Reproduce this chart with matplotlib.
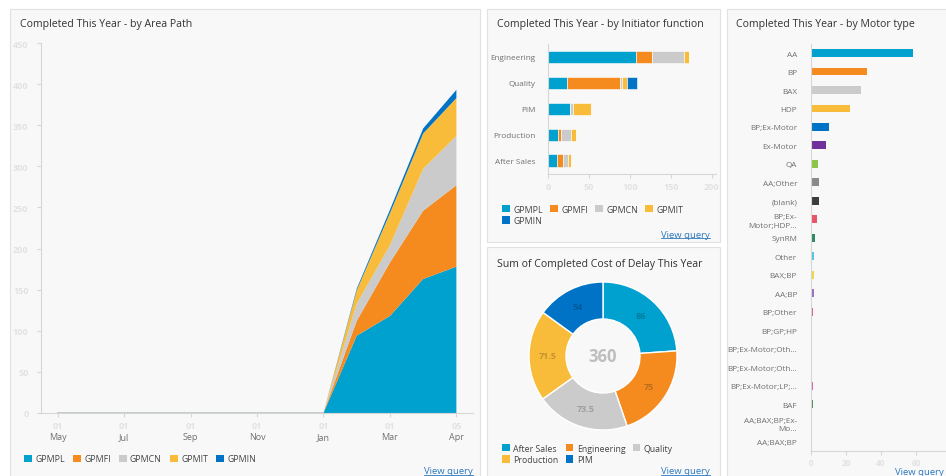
import matplotlib
matplotlib.use('Agg')
import matplotlib.pyplot as plt
from matplotlib.patches import Rectangle, Patch
from matplotlib.lines import Line2D
import numpy as np

plt.rcParams['font.family'] = ['Open Sans', 'DejaVu Sans']

# ---------------- data ----------------
series_names = ['GPMPL', 'GPMFI', 'GPMCN', 'GPMIT', 'GPMIN']
series_colors = ['#00a0cf', '#f58b1f', '#cbcbcb', '#f8bc3a', '#0073c6']

# Area chart (periods 0..12)
periods = list(range(13))
period_tick_pos = [0, 2, 4, 6, 8, 10, 12]
period_tick_labels = ['May', 'Jul', 'Sep', 'Nov', 'Jan', 'Mar', 'Apr']
period_tick_days = ['01', '01', '01', '01', '01', '01', '05']
area_gpmpl = [0, 0, 0, 0, 0, 0, 0, 0, 0, 94, 118, 163, 178]
area_gpmfi = [0, 0, 0, 0, 0, 0, 0, 0, 0, 18, 65, 83, 99]
area_gpmcn = [0, 0, 0, 0, 0, 0, 0, 0, 0, 21, 21, 51, 60]
area_gpmit = [0, 0, 0, 0, 0, 0, 0, 0, 0, 16, 39, 43, 46]
area_gpmin = [0, 0, 0, 0, 0, 0, 0, 0, 0, 2, 4, 6, 10]
area_yticks = [0, 50, 100, 150, 200, 250, 300, 350, 400, 450]

# Initiator function stacked bars
init_categories = ['Engineering', 'Quality', 'PIM', 'Production', 'After Sales']
init_gpmpl = [107, 23, 27, 12, 11]
init_gpmfi = [20, 65, 0, 4, 7]
init_gpmcn = [39, 2, 4, 12, 6]
init_gpmit = [6, 7, 22, 6, 4]
init_gpmin = [0, 11, 0, 0, 0]
init_xticks = [0, 50, 100, 150, 200]

# Cost of delay donut
cod_labels = ['After Sales', 'Engineering', 'Quality', 'Production', 'PIM']
cod_values = [86, 75, 73.5, 71.5, 54]
cod_colors = ['#00a0cf', '#f58b1f', '#cbcbcb', '#f8bc3a', '#0073c6']

# Motor type bars
motor_categories = ['AA', 'BP', 'BAX', 'HDP', 'BP;Ex-Motor', 'Ex-Motor', 'QA', 'AA;Other',
                    '(blank)', 'BP;Ex-\nMotor;HDP...', 'SynRM', 'Other', 'BAX;BP', 'AA;BP',
                    'BP;Other', 'BP;GP;HP', 'BP;Ex-Motor;Oth...', 'BP;Ex-Motor;Oth...',
                    'BP;Ex-Motor;LP;...', 'BAF', 'AA;BAX;BP;Ex-\nMo...', 'AA;BAX;BP']
motor_values = [58, 32, 28.5, 22, 10, 8.5, 4, 4.5, 4.5, 3.5, 2, 1.5, 1.5, 1.5,
                1, 0.5, 0.7, 0.7, 1, 1, 0.6, 0.6]
motor_colors = ['#00a0cf', '#f58b1f', '#cbcbcb', '#f8bc3a', '#0073c6', '#71309a', '#8dc54b',
                '#8a8a8a', '#3b3b3b', '#e6556a', '#2f8a5f', '#56c3e5', '#f2d83a', '#9b72c0',
                '#e0608a', '#ece0c8', '#f0a080', '#b8d8f0', '#e060b0', '#4f8f60', '#6cc8e8',
                '#f5b080']
motor_xticks = [0, 20, 40, 60]

# ---------------- layout helpers ----------------
W, H = 946, 477
fig = plt.figure(figsize=(W / 100, H / 100), dpi=100)
fig.patch.set_facecolor('white')

def box(x0, y0, x1, y1):
    return [x0 / W, 1 - y1 / H, (x1 - x0) / W, (y1 - y0) / H]

def panel(x0, y0, x1, y1):
    fig.add_artist(Rectangle((x0 / W, 1 - y1 / H), (x1 - x0) / W, (y1 - y0) / H,
                             transform=fig.transFigure, facecolor='#f8f8f8',
                             edgecolor='#e2e2e2', lw=0.8, zorder=0))

def title(x, y, s):
    fig.text(x / W, 1 - y / H, s, fontsize=7.6, color='#333333', va='center', ha='left')

links = []
def view_query(x, y, ha='right'):
    t = fig.text(x / W, 1 - y / H, 'View query', fontsize=6.8, color='#2a78be',
                 va='center', ha=ha)
    links.append(t)

AX_GRAY = '#d6d6d6'
BLUR = '#e2e2e2'
LBL = '#707070'

def style_axes(ax):
    ax.set_facecolor('none')
    for s in ['top', 'right']:
        ax.spines[s].set_visible(False)
    for s in ['left', 'bottom']:
        ax.spines[s].set_color(AX_GRAY)
        ax.spines[s].set_linewidth(0.8)
    ax.tick_params(colors=AX_GRAY, length=3, width=0.8)

panel(10, 10, 480, 480)
panel(487, 10, 720, 243)
panel(487, 248, 720, 480)
panel(727, 10, 950, 480)

# ---------------- Panel 1: area chart ----------------
title(20, 25, 'Completed This Year - by Area Path')
ax1 = fig.add_axes(box(41, 44, 473, 414))
style_axes(ax1)
ax1.stackplot(periods, area_gpmpl, area_gpmfi, area_gpmcn, area_gpmit, area_gpmin,
              colors=series_colors, linewidth=0)
total = np.sum([area_gpmpl, area_gpmfi, area_gpmcn, area_gpmit, area_gpmin], axis=0)
ax1.plot(periods[:9], total[:9], color='#b9c3c3', lw=1.2, zorder=3)
ax1.set_xlim(-0.5, 12.5)
ax1.set_ylim(0, 450)
ax1.set_yticks(area_yticks)
ax1.set_yticklabels([str(v) for v in area_yticks], color=BLUR, fontsize=6.5,
                    fontweight='bold')
ax1.set_xticks(period_tick_pos)
ax1.set_xticklabels(period_tick_labels, color=LBL, fontsize=6.5)
ax1.tick_params(axis='x', pad=11)
ax1.tick_params(axis='y', pad=6)
for p, d in zip(period_tick_pos, period_tick_days):
    ax1.text(p, -0.022, d, transform=ax1.get_xaxis_transform(), ha='center', va='top',
             fontsize=6.5, color=BLUR, fontweight='bold')
handles1 = [Patch(facecolor=c, edgecolor='none') for c in series_colors]
fig.legend(handles1, series_names, loc='center left',
           bbox_to_anchor=(16 / W, 1 - 460 / H), ncol=5, frameon=False, fontsize=6.3,
           handlelength=0.9, handleheight=0.9, handletextpad=0.4, columnspacing=0.9,
           labelcolor='#444444')
view_query(473, 472)

# ---------------- Panel 2: initiator function ----------------
title(497, 25, 'Completed This Year - by Initiator function')
ax2 = fig.add_axes(box(548, 45, 716, 175))
style_axes(ax2)
yy = np.arange(len(init_categories))
left = np.zeros(len(init_categories))
for vals, c in zip([init_gpmpl, init_gpmfi, init_gpmcn, init_gpmit, init_gpmin], series_colors):
    ax2.barh(yy, vals, left=left, height=0.47, color=c, edgecolor='white', linewidth=0.4)
    left += np.array(vals)
ax2.set_ylim(4.52, -0.5)
ax2.set_xlim(0, 205)
ax2.set_yticks(yy)
ax2.set_yticklabels(init_categories, color=LBL, fontsize=5.9)
ax2.tick_params(axis='y', length=0, pad=9)
ax2.set_xticks(init_xticks)
ax2.set_xticklabels([str(v) for v in init_xticks], color=BLUR, fontsize=6.5,
                    fontweight='bold')
ax2.tick_params(axis='x', pad=3)
order2 = [0, 4, 1, 2, 3]
fig.legend([handles1[i] for i in order2], [series_names[i] for i in order2],
           loc='upper left', bbox_to_anchor=(494 / W, 1 - 198 / H), ncol=4, frameon=False,
           fontsize=6.3, handlelength=0.9, handleheight=0.9, handletextpad=0.4,
           columnspacing=0.8, labelspacing=0.25, labelcolor='#444444')
view_query(710, 235)

# ---------------- Panel 3: donut ----------------
title(497, 264, 'Sum of Completed Cost of Delay This Year')
cx, cy, R = 603, 357, 74
ax3 = fig.add_axes(box(cx - 80, cy - 80, cx + 80, cy + 80))
ax3.set_facecolor('none')
wedges, _ = ax3.pie(cod_values, colors=cod_colors, startangle=90, counterclock=False,
                    radius=1, wedgeprops=dict(width=0.5, edgecolor='white', linewidth=1))
ax3.set_xlim(-80 / R, 80 / R)
ax3.set_ylim(-80 / R, 80 / R)
ax3.set_aspect('equal')
ax3.axis('off')
ang = 90
tot = sum(cod_values)
for v in cod_values:
    mid = np.deg2rad(ang - v / tot * 180)
    ax3.text(0.75 * np.cos(mid), 0.75 * np.sin(mid), f'{v:g}', ha='center', va='center',
             fontsize=6.5, color='black', alpha=0.22, fontweight='bold')
    ang -= v / tot * 360
ax3.text(0, 0, f'{tot:g}', ha='center', va='center', fontsize=12, color='#b0b0b0',
         fontweight='bold', alpha=0.8)
order3 = [0, 3, 1, 4, 2]
handles3 = [Patch(facecolor=c, edgecolor='none') for c in cod_colors]
fig.legend([handles3[i] for i in order3], [cod_labels[i] for i in order3],
           loc='upper left', bbox_to_anchor=(494 / W, 1 - 437 / H), ncol=3, frameon=False,
           fontsize=6.3, handlelength=0.9, handleheight=0.9, handletextpad=0.4,
           columnspacing=0.8, labelspacing=0.25, labelcolor='#444444')
view_query(710, 472)

# ---------------- Panel 4: motor type ----------------
title(736, 25, 'Completed This Year - by Motor type')
ax4 = fig.add_axes(box(811, 45, 946, 452))
style_axes(ax4)
ym = np.arange(len(motor_categories))
ax4.barh(ym, motor_values, height=0.43, color=motor_colors)
ax4.set_ylim(21.54, -0.49)
ax4.set_xlim(0, 77.1)
ax4.set_yticks(ym)
ax4.set_yticklabels(motor_categories, color=LBL, fontsize=5.9, linespacing=1.3)
ax4.tick_params(axis='y', length=0, pad=10)
ax4.set_xticks(motor_xticks)
ax4.set_xticklabels([str(v) for v in motor_xticks], color=BLUR, fontsize=6,
                    fontweight='bold')
ax4.tick_params(axis='x', pad=2)
view_query(944, 473, ha='right')

# underline links
fig.canvas.draw()
r = fig.canvas.get_renderer()
for t in links:
    bb = t.get_window_extent(r)
    yline = bb.y0 + 0.5
    fig.add_artist(Line2D([bb.x0 / W, bb.x1 / W], [yline / H, yline / H],
                          transform=fig.transFigure, color='#2a78be', lw=0.6))

fig.savefig('out.png', dpi=100, facecolor='white')
